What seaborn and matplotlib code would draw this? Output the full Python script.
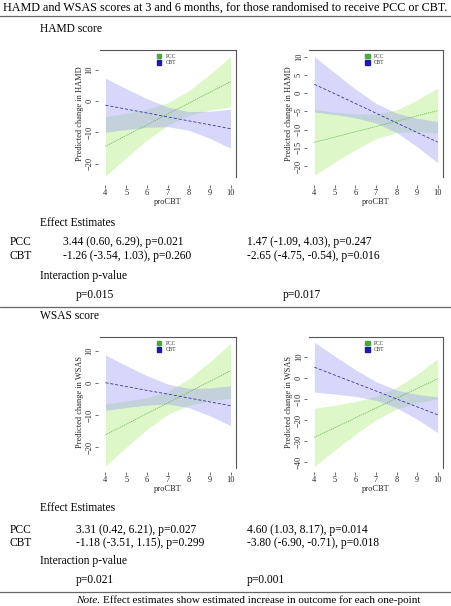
import numpy as np
import pandas as pd
import matplotlib.pyplot as plt
import matplotlib as mpl
import seaborn as sns
from matplotlib.patches import Patch
from matplotlib.lines import Line2D

# values (predicted change with 95% band)
procbt = [4, 5, 6, 7, 8, 9, 10]

# HAMD, 3 months
hamd3_pcc_fit = [-14.4, -10.96, -7.52, -4.08, -0.64, 2.8, 6.24]
hamd3_pcc_lo = [-23.9, -18.0, -12.4, -7.6, -4.6, -2.9, -1.8]
hamd3_pcc_hi = [-4.9, -3.9, -2.6, -0.5, 3.3, 8.5, 14.2]
hamd3_cbt_fit = [-1.3, -2.55, -3.8, -5.05, -6.3, -7.55, -8.8]
hamd3_cbt_lo = [-9.9, -9.05, -8.36, -8.16, -9.29, -11.86, -15.0]
hamd3_cbt_hi = [7.3, 3.95, 0.76, -1.94, -3.31, -3.24, -2.6]

# HAMD, 6 months
hamd6_pcc_fit = [-13.5, -12.05, -10.6, -9.15, -7.7, -6.25, -4.8]
hamd6_pcc_lo = [-22.5, -18.9, -15.5, -12.5, -10.8, -10.6, -11.0]
hamd6_pcc_hi = [-4.5, -5.2, -5.7, -5.8, -4.6, -1.9, 1.4]
hamd6_cbt_fit = [2.4, -0.2, -2.85, -5.5, -8.15, -10.8, -13.45]
hamd6_cbt_lo = [-5.2, -5.9, -6.8, -8.2, -10.8, -14.7, -19.1]
hamd6_cbt_hi = [10.0, 5.5, 1.1, -2.8, -5.5, -6.9, -7.8]

# WSAS, 3 months
wsas3_pcc_fit = [-16.2, -12.9, -9.55, -6.25, -2.9, 0.4, 3.7]
wsas3_pcc_lo = [-25.9, -20.05, -14.45, -9.8, -7.0, -5.65, -4.8]
wsas3_pcc_hi = [-6.5, -5.75, -4.65, -2.7, 1.2, 6.45, 12.2]
wsas3_cbt_fit = [0.0, -1.2, -2.4, -3.55, -4.75, -5.95, -7.15]
wsas3_cbt_lo = [-8.6, -7.7, -6.95, -6.65, -7.75, -10.25, -13.35]
wsas3_cbt_hi = [8.6, 5.3, 2.15, -0.45, -1.75, -1.65, -0.95]

# WSAS, 6 months
wsas6_pcc_fit = [-28.2, -23.6, -18.95, -14.35, -9.7, -5.1, -0.5]
wsas6_pcc_lo = [-42.0, -34.2, -26.7, -19.9, -14.8, -11.85, -10.0]
wsas6_pcc_hi = [-14.4, -13.0, -11.2, -8.8, -4.6, 1.65, 9.0]
wsas6_cbt_fit = [5.0, 1.25, -2.5, -6.25, -10.0, -13.75, -17.5]
wsas6_cbt_lo = [-6.8, -7.7, -8.85, -10.65, -14.2, -19.65, -25.95]
wsas6_cbt_hi = [16.8, 10.2, 3.85, -1.85, -5.8, -7.85, -9.05]

# table text
hamd_pcc_est = ["3.44 (0.60, 6.29), p=0.021", "1.47 (-1.09, 4.03), p=0.247"]
hamd_cbt_est = ["-1.26 (-3.54, 1.03), p=0.260", "-2.65 (-4.75, -0.54), p=0.016"]
hamd_inter_p = ["p=0.015", "p=0.017"]
wsas_pcc_est = ["3.31 (0.42, 6.21), p=0.027", "4.60 (1.03, 8.17), p=0.014"]
wsas_cbt_est = ["-1.18 (-3.51, 1.15), p=0.299", "-3.80 (-6.90, -0.71), p=0.018"]
wsas_inter_p = ["p=0.021", "p=0.001"]

sns.set_theme(style='white')
plt.rcParams['font.family'] = ['Liberation Serif', 'DejaVu Serif']

W, H = 451, 606
fig = plt.figure(figsize=(W / 100, H / 100), dpi=100)

pcc_fill, cbt_fill = '#b8f08c', '#a0a0f5'
pcc_line, cbt_line = '#62b452', '#2a2a9c'
AX_FS = 6


def box(x0, y0, x1, y1):
    return [x0 / W, 1 - y1 / H, (x1 - x0) / W, (y1 - y0) / H]


def panel(rect, pcc, cbt, outcome, yticks, ylim, xoff):
    ax = fig.add_axes(rect)
    ax.fill_between(procbt, pcc[1], pcc[2], color=pcc_fill, alpha=0.48, lw=0)
    ax.fill_between(procbt, cbt[1], cbt[2], color=cbt_fill, alpha=0.42, lw=0)
    df = pd.DataFrame({'proCBT': procbt * 2,
                       'fit': pcc[0] + cbt[0],
                       'group': ['PCC'] * 7 + ['CBT'] * 7})
    sns.lineplot(data=df, x='proCBT', y='fit', hue='group', style='group',
                 palette={'PCC': pcc_line, 'CBT': cbt_line},
                 dashes={'PCC': (1.5, 1.2), 'CBT': (4, 2.5)},
                 lw=0.55, legend=False, ax=ax)
    ax.set_xlim(3.74, 10.26)
    ax.set_ylim(*ylim)
    ax.set_xticks(procbt)
    ax.set_yticks(yticks)
    for s in ['left', 'bottom']:
        ax.spines[s].set_visible(False)
    for s in ['top', 'right']:
        ax.spines[s].set_color('#555555')
        ax.spines[s].set_linewidth(0.8)
    ax.spines['bottom'].set_position(('outward', xoff))
    ax.spines['left'].set_position(('outward', 1.5))
    ax.tick_params(axis='x', bottom=True, length=2, width=0.5, pad=0.8,
                   labelsize=AX_FS, color='#333333')
    ax.tick_params(axis='y', left=True, length=2, width=0.5, pad=1,
                   labelsize=AX_FS, labelrotation=90, color='#333333')
    for lab in ax.get_yticklabels():
        lab.set_va('center')
    ax.set_xlabel('proCBT', fontsize=AX_FS, labelpad=1)
    ax.set_ylabel('Predicted change in ' + outcome, fontsize=AX_FS, labelpad=1.5)
    handles = [Patch(color='#4aa83c', label='PCC'), Patch(color='#1c1ca8', label='CBT')]
    ax.legend(handles=handles, loc='upper left', bbox_to_anchor=(0.39, 1.0),
              frameon=False, fontsize=4, handlelength=0.8, handleheight=0.8,
              labelspacing=0.25, handletextpad=0.8, borderaxespad=0.3)
    return ax


panel(box(100, 50, 236, 177), (hamd3_pcc_fit, hamd3_pcc_lo, hamd3_pcc_hi),
      (hamd3_cbt_fit, hamd3_cbt_lo, hamd3_cbt_hi), 'HAMD', [-20, -10, 0, 10], (-24.2, 16.3), 5.5)
panel(box(309, 50, 443, 177), (hamd6_pcc_fit, hamd6_pcc_lo, hamd6_pcc_hi),
      (hamd6_cbt_fit, hamd6_cbt_lo, hamd6_cbt_hi), 'HAMD', [-20, -15, -10, -5, 0, 5, 10], (-23.0, 11.8), 5.5)
panel(box(100, 337, 236, 468), (wsas3_pcc_fit, wsas3_pcc_lo, wsas3_pcc_hi),
      (wsas3_cbt_fit, wsas3_cbt_lo, wsas3_cbt_hi), 'WSAS', [-20, -10, 0, 10], (-26.5, 14.2), 3)
panel(box(309, 337, 443, 468), (wsas6_pcc_fit, wsas6_pcc_lo, wsas6_pcc_hi),
      (wsas6_cbt_fit, wsas6_cbt_lo, wsas6_cbt_hi), 'WSAS', [-40, -30, -20, -10, 0, 10], (-42.7, 19.3), 3)

FS = 8.3


def txt(x, y, s, size=FS, **kw):
    fig.text(x / W, 1 - y / H, s, va='center', fontsize=size, color='black', **kw)


def hline(y):
    fig.add_artist(Line2D([0, 1], [1 - y / H] * 2, transform=fig.transFigure,
                          color='#666666', lw=0.9))


txt(3, 7.5, 'HAMD and WSAS scores at 3 and 6 months, for those randomised to receive PCC or CBT.', size=8.7)
hline(16)
txt(40, 29, 'HAMD score')

txt(40, 223, 'Effect Estimates')
txt(10, 242, 'PCC')
txt(10, 256, 'CBT')
txt(63, 242, hamd_pcc_est[0])
txt(247, 242, hamd_pcc_est[1])
txt(63, 256, hamd_cbt_est[0])
txt(247, 256, hamd_cbt_est[1])
txt(40, 276, 'Interaction p-value')
txt(76, 295, hamd_inter_p[0])
txt(283, 295, hamd_inter_p[1])
hline(307)
txt(40, 316, 'WSAS score')

txt(40, 508, 'Effect Estimates')
txt(10, 530, 'PCC')
txt(10, 543, 'CBT')
txt(76, 530, wsas_pcc_est[0])
txt(247, 530, wsas_pcc_est[1])
txt(76, 543, wsas_cbt_est[0])
txt(247, 543, wsas_cbt_est[1])
txt(40, 561, 'Interaction p-value')
txt(76, 580, wsas_inter_p[0])
txt(247, 580, wsas_inter_p[1])
hline(592)
txt(76, 600.5, 'Note.', size=8.1, style='italic')
txt(103, 600.5, 'Effect estimates show estimated increase in outcome for each one-point', size=8.0)

fig.savefig('out.png', dpi=100)
